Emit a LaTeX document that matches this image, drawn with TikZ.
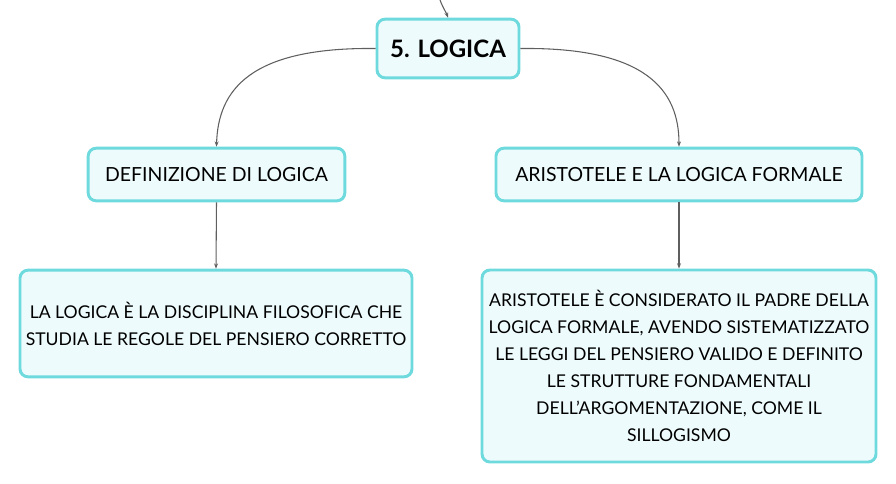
\documentclass[tikz,border=0pt]{standalone}
\usepackage{fontspec}
\setmainfont{Lato}
\usetikzlibrary{arrows.meta}
\definecolor{boxline}{RGB}{110,218,222}
\definecolor{boxfill}{RGB}{238,251,252}
\definecolor{linkgray}{RGB}{95,95,95}
\begin{document}
\begin{tikzpicture}[x=0.75pt,y=0.75pt,yscale=-1,xscale=1,
  topicbox/.style={draw=boxline,fill=boxfill,line width=2.2pt,rounded corners=6pt,align=center,inner sep=0pt},
  link/.style={draw=linkgray,line width=0.8pt,-{Stealth[length=4pt,width=3pt]}}]
\useasboundingbox (0,0) rectangle (896,483);
%Root
\node [topicbox,minimum width=106.5pt,minimum height=44pt,font=\fontsize{18}{20}\selectfont\bfseries] (logica) at (448,48.5) {5. LOGICA};
%Branches
\node [topicbox,minimum width=192.5pt,minimum height=39.5pt,font=\fontsize{14.6}{17}\selectfont] (definizione) at (216.5,174.5) {DEFINIZIONE DI LOGICA};
\node [topicbox,minimum width=274.5pt,minimum height=39.5pt,font=\fontsize{14.6}{17}\selectfont] (aristotele) at (679,174.5) {ARISTOTELE E LA LOGICA FORMALE};
%Details
\node [topicbox,minimum width=294pt,minimum height=80pt,font=\fontsize{13.2}{20.25}\selectfont] (defdetail) at (216,323.5) {LA LOGICA È LA DISCIPLINA FILOSOFICA CHE\\STUDIA LE REGOLE DEL PENSIERO CORRETTO};
\node [topicbox,minimum width=295.5pt,minimum height=144pt,font=\fontsize{13.2}{20.25}\selectfont] (aristdetail) at (679,366) {ARISTOTELE È CONSIDERATO IL PADRE DELLA\\LOGICA FORMALE, AVENDO SISTEMATIZZATO\\LE LEGGI DEL PENSIERO VALIDO E DEFINITO\\LE STRUTTURE FONDAMENTALI\\DELL’ARGOMENTAZIONE, COME IL\\SILLOGISMO};
%Connectors
\coordinate (incoming) at (440,0);
\draw [link] (incoming) .. controls (443,8) and (446,12) .. (logica.north);
\draw [link] (logica.west) .. controls (250,47) and (218,90) .. (definizione.north);
\draw [link] (logica.east) .. controls (646,47) and (679,90) .. (aristotele.north);
\draw [link] (definizione.south) -- (defdetail.north);
\draw [link] (aristotele.south) -- (aristdetail.north);
\end{tikzpicture}
\end{document}
